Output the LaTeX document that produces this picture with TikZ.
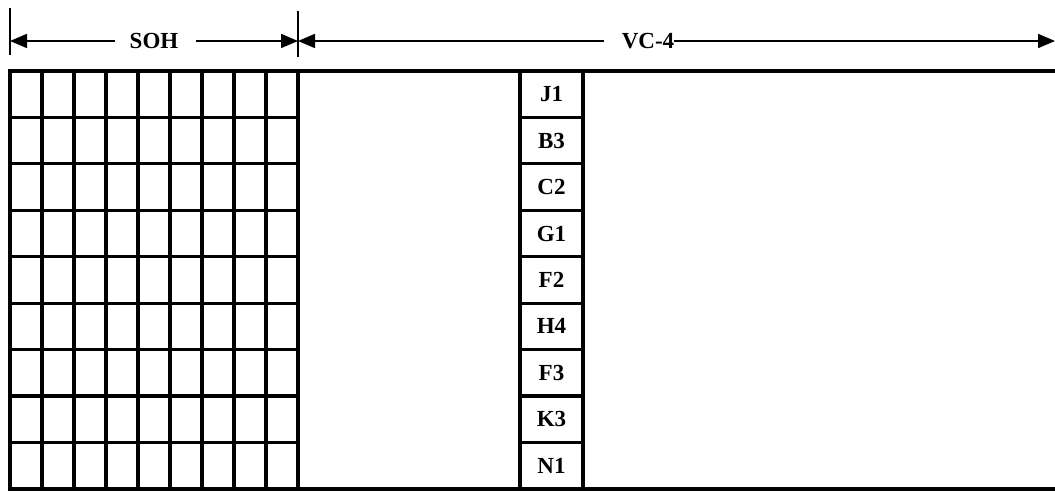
\documentclass[tikz,border=0pt]{standalone}
\usepackage{fontspec}
\setmainfont{Liberation Serif}
\usetikzlibrary{arrows.meta}
\begin{document}
\begin{tikzpicture}[x=1pt,y=-1pt,
  gridline/.style={line width=3.2pt, line cap=rect},
  dimline/.style={line width=1.8pt},
  tipped/.style={-{Triangle[length=17pt,width=14pt]}},
  lbl/.style={font=\bfseries\fontsize{23}{23}\selectfont, inner sep=0pt},
  cell/.style={font=\bfseries\fontsize{23}{23}\selectfont, inner sep=0pt}]
\useasboundingbox (0,0) rectangle (1055,492);
% SOH grid
\foreach \i in {0,...,9} \draw[gridline] ({10+\i*32},71) -- ({10+\i*32},489);
\foreach \j in {1,...,8} \draw[gridline] (10,{71+\j*46.44}) -- (298,{71+\j*46.44});
% top and bottom borders
\draw[gridline] (10,71) -- (1055,71);
\draw[gridline] (10,489) -- (1055,489);
% POH column
\draw[gridline] (520,71) -- (520,489);
\draw[gridline] (583,71) -- (583,489);
\foreach \j in {1,...,8} \draw[gridline] (520,{71+\j*46.44}) -- (583,{71+\j*46.44});
\foreach \t [count=\k from 0] in {J1,B3,C2,G1,F2,H4,F3,K3,N1}
  \node[cell] (poh\k) at (551.5,{71+(\k+0.5)*46.44}) {\t};
% dimension ticks
\coordinate (lt) at (10,41);
\coordinate (mt) at (298,41);
\coordinate (re) at (1055,41);
\draw[dimline] (10,8) -- (10,55);
\draw[dimline] (298,11) -- (298,57);
% labels and arrows
\node[lbl] (soh) at (154,41) {SOH};
\node[lbl] (vc) at (648,41) {VC-4};
\draw[dimline,tipped] ([xshift=-15pt]soh.west) -- (lt);
\draw[dimline,tipped] ([xshift=18pt]soh.east) -- (mt);
\draw[dimline,tipped] ([xshift=-18pt]vc.west) -- (mt);
\draw[dimline,tipped] (vc.east) -- (re);
\end{tikzpicture}
\end{document}
